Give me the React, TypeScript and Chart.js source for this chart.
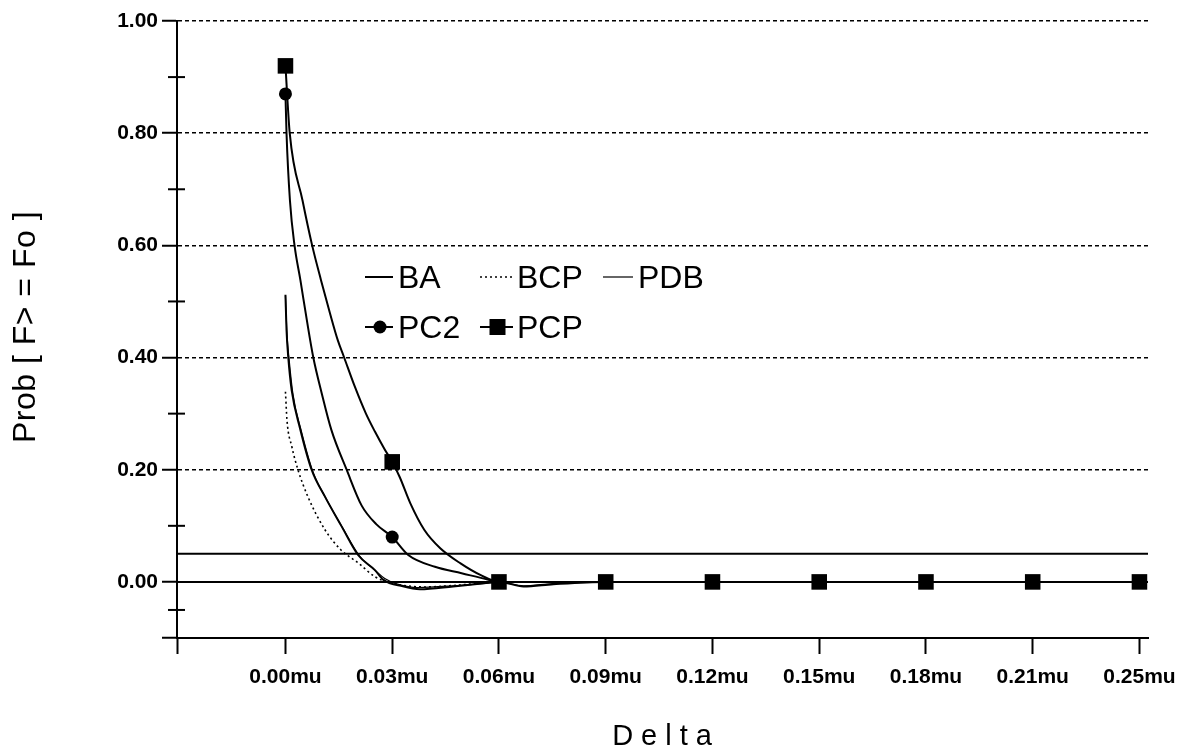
import React, { useEffect, useRef } from 'react';
import { Chart, registerables } from 'chart.js';

Chart.register(...registerables);

// ---- categories / ticks ----
const X_LABELS = ['0.00mu', '0.03mu', '0.06mu', '0.09mu', '0.12mu', '0.15mu', '0.18mu', '0.21mu', '0.25mu'];
const X_MIN = -1.016;
const X_MAX = 8.08;
const Y_MIN = -0.1;
const Y_MAX = 1.0;
const Y_MAJOR_TICKS = [-0.1, 0, 0.2, 0.4, 0.6, 0.8, 1.0];
const Y_MINOR_TICKS = [-0.05, 0.1, 0.3, 0.5, 0.7, 0.9];
const Y_GRID_LEVELS = [0.2, 0.4, 0.6, 0.8, 1.0];
const REF_LEVELS = [0.05, 0];

// ---- series (x = position along the Delta categories, y = probability) ----
const BA_X = [0, 0.01, 0.026, 0.058, 0.136, 0.245, 0.37, 0.526, 0.68, 0.838, 0.915, 1.1, 1.26, 1.57, 1.88, 2, 2.23, 2.51, 3, 4, 5, 6, 7, 8];
const BA_Y = [0.512, 0.449, 0.401, 0.342, 0.274, 0.2, 0.152, 0.099, 0.048, 0.021, 0.004, -0.008, -0.013, -0.008, -0.002, 0, -0.008, -0.004, 0, 0, 0, 0, 0, 0];

const BCP_X = [0, 0.014, 0.06, 0.117, 0.21, 0.37, 0.52, 0.68, 0.84, 0.95, 1.1, 1.3, 1.6, 2, 3, 4, 5, 6, 7, 8];
const BCP_Y = [0.339, 0.289, 0.241, 0.2, 0.152, 0.093, 0.057, 0.034, 0.009, 0, -0.006, -0.009, -0.006, 0, 0, 0, 0, 0, 0, 0];

const PDB_X = [0, 0.015, 0.035, 0.07, 0.15, 0.26, 0.385, 0.54, 0.695, 0.85, 0.93, 1.05, 1.24, 1.57, 1.9, 2, 2.23, 2.5, 3, 4, 5, 6, 7, 8];
const PDB_Y = [0.51, 0.44, 0.395, 0.335, 0.268, 0.195, 0.147, 0.095, 0.046, 0.019, 0.006, -0.004, -0.01, -0.007, -0.002, 0, -0.007, -0.003, 0, 0, 0, 0, 0, 0];

const PC2_X = [0, 0.01, 0.042, 0.085, 0.14, 0.2, 0.26, 0.34, 0.43, 0.573, 0.714, 0.85, 1, 1.15, 1.4, 1.65, 1.9, 2, 3, 4, 5, 6, 7, 8];
const PC2_Y = [0.87, 0.8, 0.68, 0.6, 0.538, 0.467, 0.401, 0.336, 0.271, 0.2, 0.136, 0.103, 0.08, 0.048, 0.027, 0.0155, 0.004, 0, 0, 0, 0, 0, 0, 0];

const PCP_X = [0, 0.04, 0.16, 0.25, 0.333, 0.417, 0.49, 0.548, 0.65, 0.754, 0.838, 0.93, 1, 1.07, 1.17, 1.3, 1.45, 1.64, 1.83, 2, 3, 4, 5, 6, 7, 8];
const PCP_Y = [0.92, 0.8, 0.68, 0.6, 0.538, 0.479, 0.431, 0.401, 0.348, 0.3, 0.268, 0.236, 0.214, 0.187, 0.14, 0.093, 0.06, 0.033, 0.012, 0, 0, 0, 0, 0, 0, 0];

const LEGEND_ROWS = [
  ['BA', 'BCP', 'PDB'],
  ['PC2', 'PCP'],
];

// ---- styling ----
const INK = '#000';
const TICK_FONT = { family: '"Liberation Sans", Arial, sans-serif', size: 21, weight: 'bold' as const };
const LEGEND_FONT = '32px "Liberation Sans", Arial, sans-serif';
const LEGEND_COL_DX = [188, 303, 426];
const LEGEND_ROW_DY = [256, 306];
const LEGEND_LINE_LEN = [28, 33, 30];
const LEGEND_TEXT_DX = [33, 37, 35];

const zip = (xs: number[], ys: number[]) => xs.map((x, i) => ({ x, y: ys[i] }));
const onCategory = (ctx: any) => ctx.raw && Number.isInteger(ctx.raw.x);

const lineBase = {
  borderColor: INK,
  backgroundColor: INK,
  fill: false,
  cubicInterpolationMode: 'monotone' as const,
  pointRadius: 0,
  pointHoverRadius: 0,
};

const datasets: any[] = [
  {
    ...lineBase,
    label: 'PCP',
    data: zip(PCP_X, PCP_Y),
    borderWidth: 2,
    pointStyle: 'rect',
    pointRadius: (ctx: any) => (onCategory(ctx) ? 11 : 0),
    pointBackgroundColor: INK,
    pointBorderWidth: 0,
    order: 0,
  },
  {
    ...lineBase,
    label: 'PC2',
    data: zip(PC2_X, PC2_Y),
    borderWidth: 2,
    pointStyle: 'circle',
    pointRadius: (ctx: any) => (onCategory(ctx) ? 6.5 : 0),
    pointBackgroundColor: INK,
    pointBorderWidth: 0,
    order: 1,
  },
  { ...lineBase, label: 'BA', data: zip(BA_X, BA_Y), borderWidth: 2, order: 2 },
  { ...lineBase, label: 'PDB', data: zip(PDB_X, PDB_Y), borderWidth: 1.2, order: 3 },
  { ...lineBase, label: 'BCP', data: zip(BCP_X, BCP_Y), borderWidth: 1.6, borderDash: [2, 3], order: 4 },
  ...REF_LEVELS.map((lvl, i) => ({
    ...lineBase,
    label: `ref${i}`,
    data: [
      { x: X_MIN, y: lvl },
      { x: X_MAX, y: lvl },
    ],
    borderWidth: 2,
    order: 10 + i,
  })),
];

const decorPlugin = {
  id: 'decor',
  afterDraw(chart: any) {
    const { ctx, chartArea, scales } = chart;
    ctx.save();
    // minor ticks on the y axis
    ctx.strokeStyle = INK;
    ctx.lineWidth = 2;
    Y_MINOR_TICKS.forEach((v) => {
      const y = scales.y.getPixelForValue(v);
      ctx.beginPath();
      ctx.moveTo(chartArea.left - 9, y);
      ctx.lineTo(chartArea.left + 8, y);
      ctx.stroke();
    });

    // inline legend
    ctx.font = LEGEND_FONT;
    ctx.fillStyle = INK;
    ctx.textBaseline = 'alphabetic';
    LEGEND_ROWS.forEach((row, r) => {
      row.forEach((label, c) => {
        const ds = chart.data.datasets.find((d: any) => d.label === label);
        if (!ds) return;
        const x = chartArea.left + LEGEND_COL_DX[c];
        const y = chartArea.top + LEGEND_ROW_DY[r];
        const len = LEGEND_LINE_LEN[c];
        ctx.strokeStyle = INK;
        ctx.lineWidth = ds.borderWidth;
        ctx.setLineDash(ds.borderDash || []);
        ctx.beginPath();
        ctx.moveTo(x, y);
        ctx.lineTo(x + len, y);
        ctx.stroke();
        ctx.setLineDash([]);
        const mx = x + len / 2 + 1;
        if (ds.pointStyle === 'circle') {
          ctx.beginPath();
          ctx.arc(mx, y, 6.5, 0, Math.PI * 2);
          ctx.fill();
        } else if (ds.pointStyle === 'rect') {
          ctx.fillRect(mx - 8, y - 8, 16, 16);
        }
        ctx.fillText(label, x + LEGEND_TEXT_DX[c], y + 11);
      });
    });
    ctx.restore();
  },
};

export default function App() {
  const canvasRef = useRef<HTMLCanvasElement>(null);

  useEffect(() => {
    if (!canvasRef.current) return;
    const chart = new Chart(canvasRef.current, {
      type: 'line',
      data: { datasets },
      options: {
        animation: false,
        responsive: false,
        devicePixelRatio: 1,
        parsing: false,
        normalized: true,
        layout: { padding: { top: 21, right: 41, bottom: 0, left: 0 } },
        plugins: {
          legend: { display: false },
          tooltip: { enabled: false },
        },
        events: [],
        scales: {
          x: {
            type: 'linear',
            min: X_MIN,
            max: X_MAX,
            afterBuildTicks: (s: any) => {
              s.ticks = [X_MIN, ...X_LABELS.map((_, i) => i)].map((v) => ({ value: v }));
            },
            afterFit: (s: any) => {
              s.height = 113;
            },
            ticks: {
              autoSkip: false,
              maxRotation: 0,
              color: INK,
              font: TICK_FONT,
              padding: 11,
              callback: (v: any) => (Number.isInteger(v) && X_LABELS[v] ? X_LABELS[v] : ''),
            },
            grid: {
              drawOnChartArea: false,
              drawTicks: true,
              tickLength: 16,
              tickColor: INK,
              tickWidth: 2,
            },
            border: { display: true, color: INK, width: 2 },
          },
          y: {
            type: 'linear',
            min: Y_MIN,
            max: Y_MAX,
            afterBuildTicks: (s: any) => {
              s.ticks = Y_MAJOR_TICKS.map((v) => ({ value: v }));
            },
            afterFit: (s: any) => {
              s.width = 177;
            },
            ticks: {
              color: INK,
              font: TICK_FONT,
              padding: 4,
              callback: (v: any) => (v >= 0 ? Number(v).toFixed(2) : ''),
            },
            grid: {
              color: (ctx: any) =>
                ctx.tick && Y_GRID_LEVELS.some((l) => Math.abs(l - ctx.tick.value) < 1e-9) ? INK : 'rgba(0,0,0,0)',
              lineWidth: 1.5,
              drawTicks: true,
              tickLength: 15,
              tickColor: INK,
              tickWidth: 2,
            },
            border: { display: true, color: INK, width: 2, dash: [4, 3] },
          },
        },
      },
      plugins: [decorPlugin],
    } as any);
    return () => chart.destroy();
  }, []);

  return (
    <div style={{ position: 'absolute', left: 0, top: 0, width: 1189, height: 751, background: '#fff', overflow: 'hidden' }}>
      <canvas ref={canvasRef} width={1189} height={751} style={{ position: 'absolute', left: 0, top: 0 }} />
      <div
        style={{
          position: 'absolute',
          left: 24 - 150,
          top: 327 - 16,
          width: 300,
          height: 32,
          lineHeight: '32px',
          fontSize: 32,
          fontFamily: '"Liberation Sans", Arial, sans-serif',
          textAlign: 'center',
          whiteSpace: 'pre',
          letterSpacing: '0.5px',
          color: INK,
          transform: 'rotate(-90deg)',
        }}
      >
        Prob [ F&gt; = Fo ]
      </div>
      <div
        style={{
          position: 'absolute',
          left: 662,
          top: 721,
          transform: 'translateX(-50%)',
          paddingLeft: 8,
          fontSize: 29,
          lineHeight: '29px',
          letterSpacing: '8px',
          fontFamily: '"Liberation Sans", Arial, sans-serif',
          color: INK,
          whiteSpace: 'pre',
        }}
      >
        Delta
      </div>
    </div>
  );
}
